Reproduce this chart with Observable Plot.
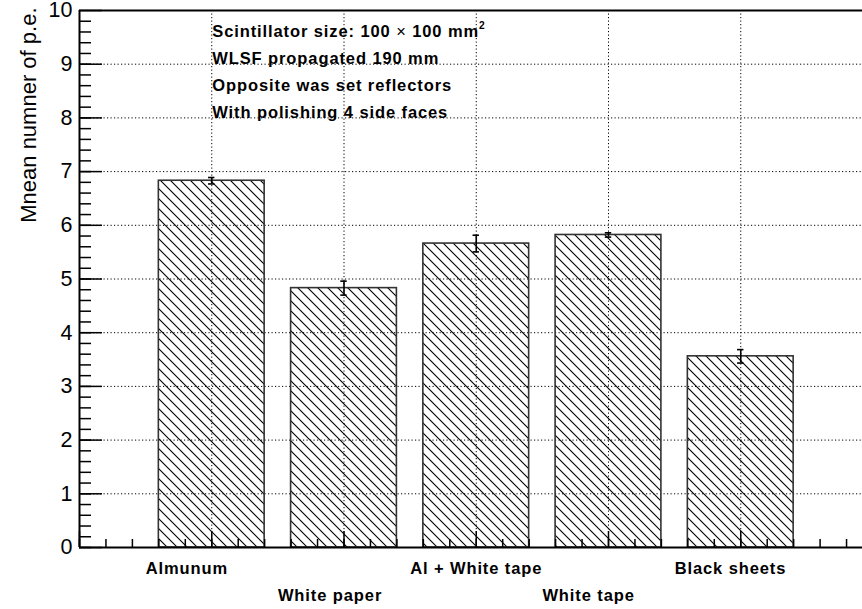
<!DOCTYPE html>
<html>
<head>
<meta charset="utf-8">
<script src="https://cdn.jsdelivr.net/npm/d3@7"></script>
<script src="https://cdn.jsdelivr.net/npm/@observablehq/plot@0.6"></script>
<style>
  html, body { margin: 0; padding: 0; background: #fff; overflow: hidden; }
  #chart { width: 862px; height: 609px; overflow: hidden; }
</style>
</head>
<body>
<div id="chart"></div>
<script>
// Reflector comparison: mean number of photoelectrons per reflector type
const categories = ["Almunum", "White paper", "Al + White tape", "White tape", "Black sheets"];
const meanPE = [6.83, 4.83, 5.66, 5.82, 3.56];
const errPE = [0.06, 0.13, 0.155, 0.04, 0.125];
const yTickLabels = [0, 1, 2, 3, 4, 5, 6, 7, 8, 9, 10];
const notes = [
  "Scintillator size: 100 × 100 mm²",
  "WLSF propagated 190 mm",
  "Opposite was set reflectors",
  "With polishing 4 side faces"
];
const yTitle = "Mnean numner of p.e.";

// Layout
const W = 862, H = 609;
const marginLeft = 79, marginRight = 0, marginTop = 10, marginBottom = 62;
const slotPx = 132.25;                         // pixels per category slot
const unitPx = (H - marginTop - marginBottom) / 10; // pixels per y unit
const font = "'Liberation Sans', Arial, Helvetica, sans-serif";
const dotted = "1.2,2.3";
const barHalf = 0.4;
const capHalf = 3.2 / slotPx;
const noteY = [9.61, 9.1, 8.6, 8.1];

const rows = categories.map((name, i) => ({
  name, pos: i + 1, value: meanPE[i], err: errPE[i], row: i % 2
}));

const yMinor = d3.range(0, 50).map(k => k / 5);
const xMinor = d3.range(0, 31).map(k => k / 5);
const xMajor = d3.range(0, 7);

const chart = Plot.plot({
  width: W, height: H,
  marginLeft, marginRight, marginTop, marginBottom,
  style: { fontFamily: font, background: "#fff", color: "#000" },
  x: { type: "linear", domain: [0, 6], range: [marginLeft, marginLeft + 6 * slotPx], axis: null },
  y: { domain: [0, 10], axis: null },
  marks: [
    // dotted grid
    Plot.gridY(d3.range(1, 10), { stroke: "#000", strokeOpacity: 1, strokeWidth: 1, strokeDasharray: dotted }),
    Plot.gridX(d3.range(1, 6), { stroke: "#000", strokeOpacity: 1, strokeWidth: 1, strokeDasharray: dotted }),
    // hatched bars
    Plot.rect(rows, {
      x1: d => d.pos - barHalf, x2: d => d.pos + barHalf,
      y1: 0, y2: "value",
      fill: "url(#hatch)", stroke: "#333", strokeWidth: 1.6
    }),
    // error bars
    Plot.ruleX(rows, { x: "pos", y1: d => d.value - d.err, y2: d => d.value + d.err, stroke: "#000", strokeWidth: 1.6 }),
    Plot.ruleY(rows, { x1: d => d.pos - capHalf, x2: d => d.pos + capHalf, y: d => d.value - d.err, stroke: "#000", strokeWidth: 1.6 }),
    Plot.ruleY(rows, { x1: d => d.pos - capHalf, x2: d => d.pos + capHalf, y: d => d.value + d.err, stroke: "#000", strokeWidth: 1.6 }),
    // inward ticks on the y axis
    Plot.ruleY(yMinor, { y: d => d, x1: 0, x2: 12 / slotPx, stroke: "#000", strokeWidth: 1.5 }),
    Plot.ruleY(yTickLabels, { y: d => d, x1: 0, x2: 23 / slotPx, stroke: "#000", strokeWidth: 1.5 }),
    // inward ticks on the x axis
    Plot.ruleX(xMinor, { x: d => d, y1: 0, y2: 8 / unitPx, stroke: "#000", strokeWidth: 1.5 }),
    Plot.ruleX(xMajor, { x: d => d, y1: 0, y2: 16 / unitPx, stroke: "#000", strokeWidth: 1.5 }),
    // frame
    Plot.ruleX([0], { stroke: "#000", strokeWidth: 2 }),
    Plot.ruleY([0, 10], { stroke: "#000", strokeWidth: 2 }),
    // y tick labels
    Plot.text(yTickLabels, { x: 0, y: d => d, text: d => String(d), textAnchor: "end", dx: -7, fontSize: 21.5, fill: "#000" }),
    // y title
    Plot.text([yTitle], { frameAnchor: "top-left", text: d => d, rotate: -90, textAnchor: "end", dx: -59, dy: -3, fontSize: 22, fill: "#000" }),
    // category labels on two staggered rows
    Plot.text(rows, { filter: d => d.row === 0, x: d => d.pos - 0.5, y: 0, text: "name", textAnchor: "start", dy: 21.3, fontSize: 16.5, fontWeight: "bold", fill: "#000" }),
    Plot.text(rows, { filter: d => d.row === 1, x: d => d.pos - 0.5, y: 0, text: "name", textAnchor: "start", dy: 48, fontSize: 16.5, fontWeight: "bold", fill: "#000" }),
    // notes
    Plot.text(notes, { x: 1, y: (d, i) => noteY[i], text: d => d, textAnchor: "start", dx: 0.5, fontSize: 16.5, fontWeight: "bold", fill: "#000" })
  ]
});

// hatch pattern for the bars
const svg = d3.select(chart);
const defs = svg.insert("defs", ":first-child");
const pat = defs.append("pattern")
  .attr("id", "hatch")
  .attr("patternUnits", "userSpaceOnUse")
  .attr("width", 10).attr("height", 10);
pat.append("path")
  .attr("d", "M-1,-1L11,11M-1,9L1,11M9,-1L11,1")
  .attr("stroke", "#000").attr("stroke-width", 1.1).attr("fill", "none");

// bold labels are set slightly wider
svg.selectAll("g[font-weight='bold']").attr("letter-spacing", 0.9);

// normal-weight multiplication sign and raised exponent in the first note
svg.selectAll("text").each(function () {
  const t = this.textContent;
  if (t !== notes[0]) return;
  const [head, rest] = t.split("×");
  const base = rest.replace("²", "");
  const el = d3.select(this);
  el.text(null);
  el.append("tspan").text(head);
  el.append("tspan").attr("font-weight", "normal").text("×");
  el.append("tspan").text(base);
  el.append("tspan").attr("font-size", "0.62em").attr("dy", "-0.75em").text("2");
});

document.getElementById("chart").appendChild(chart);
</script>
</body>
</html>
